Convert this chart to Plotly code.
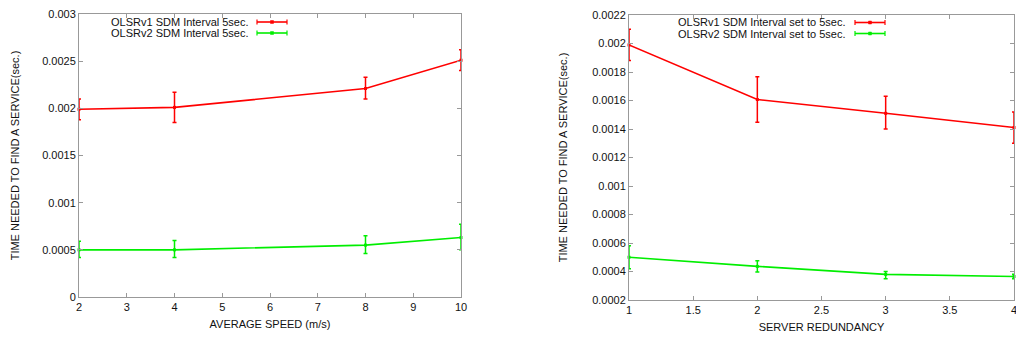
import plotly.graph_objects as go

# Left chart: average speed
speed = [2, 4, 8, 10]
v1_speed = [0.00199, 0.00201, 0.00221, 0.00251]
v1_speed_up = [0.00011, 0.00016, 0.00012, 0.00011]
v1_speed_dn = [0.00011, 0.00016, 0.00011, 0.00011]
v2_speed = [0.00050, 0.00050, 0.00055, 0.00063]
v2_speed_up = [0.00009, 0.00010, 0.00010, 0.00014]
v2_speed_dn = [0.00008, 0.00008, 0.00009, 0.00013]

# Right chart: server redundancy
redund = [1, 2, 3, 4]
v1_red = [0.00199, 0.001607, 0.00151, 0.00141]
v1_red_up = [0.00011, 0.00016, 0.00012, 0.00011]
v1_red_dn = [0.00011, 0.00016, 0.00011, 0.00011]
v2_red = [0.00050, 0.000436, 0.00038, 0.000365]
v2_red_up = [0.00008, 0.00004, 0.00002, 0.000015]
v2_red_dn = [0.00008, 0.00004, 0.00003, 0.000015]

left_yticks = [0, 0.0005, 0.001, 0.0015, 0.002, 0.0025, 0.003]
left_yticktext = ["0", "0.0005", "0.001", "0.0015", "0.002", "0.0025", "0.003"]
right_yticks = [0.0002, 0.0004, 0.0006, 0.0008, 0.001, 0.0012, 0.0014, 0.0016, 0.0018, 0.002, 0.0022]
right_yticktext = ["0.0002", "0.0004", "0.0006", "0.0008", "0.001", "0.0012", "0.0014",
                   "0.0016", "0.0018", "0.002", "0.0022"]
left_xticks = [2, 3, 4, 5, 6, 7, 8, 9, 10]
right_xticks = [1, 1.5, 2, 2.5, 3, 3.5, 4]
right_xticktext = ["1", "1.5", "2", "2.5", "3", "3.5", "4"]

names_left = ["OLSRv1 SDM Interval 5sec.", "OLSRv2 SDM Interval 5sec."]
names_right = ["OLSRv1 SDM Interval set to 5sec.", "OLSRv2 SDM Interval set to 5sec."]
xtitles = ["AVERAGE SPEED (m/s)", "SERVER REDUNDANCY"]
ytitle = "TIME NEEDED TO FIND A SERVICE(sec.)"

RED = "#ff0000"
GREEN = "#00ee00"
TEXT = "#111111"
FONT = "Liberation Sans, Arial, sans-serif"

# the page body has an 8px margin; figure sized to fill the remaining window
OFF = 8
W, H = 1024 - OFF, 341 - OFF


def px(x):
    return (x - OFF) / W


def py(y):
    return 1 - (y - OFF) / H


fig = go.Figure()


def add(x, y, up, dn, name, color, xa, ya):
    fig.add_trace(go.Scatter(
        x=x, y=y, name=name, mode="lines+markers", showlegend=False, cliponaxis=False,
        line=dict(color=color, width=1.6),
        marker=dict(color=color, size=3, symbol="square"),
        error_y=dict(type="data", symmetric=False, array=up, arrayminus=dn,
                     color=color, thickness=1.5, width=2),
        xaxis=xa, yaxis=ya))


add(speed, v1_speed, v1_speed_up, v1_speed_dn, names_left[0], RED, "x", "y")
add(speed, v2_speed, v2_speed_up, v2_speed_dn, names_left[1], GREEN, "x", "y")
add(redund, v1_red, v1_red_up, v1_red_dn, names_right[0], RED, "x2", "y2")
add(redund, v2_red, v2_red_up, v2_red_dn, names_right[1], GREEN, "x2", "y2")


# gnuplot-style key: right-aligned text followed by a sample line
def key(names, text_right, sample_left, sample_right, rows_y):
    for name, color, yp in zip(names, [RED, GREEN], rows_y):
        yy = py(yp)
        fig.add_annotation(xref="paper", yref="paper", x=px(text_right), y=yy,
                           xanchor="right", yanchor="middle", text=name, showarrow=False,
                           font=dict(size=11, color=TEXT))
        fig.add_shape(type="line", xref="paper", yref="paper",
                      x0=px(sample_left), x1=px(sample_right), y0=yy, y1=yy,
                      line=dict(color=color, width=1.6))
        for xe in (sample_left, sample_right):
            fig.add_shape(type="line", xref="paper", yref="paper",
                          x0=px(xe), x1=px(xe), y0=yy - 2.5 / H, y1=yy + 2.5 / H,
                          line=dict(color=color, width=1.2))
        xm = (sample_left + sample_right) / 2
        fig.add_shape(type="rect", xref="paper", yref="paper",
                      x0=px(xm - 1.5), x1=px(xm + 1.5), y0=yy - 1.5 / H, y1=yy + 1.5 / H,
                      line=dict(color=color, width=0.5), fillcolor=color)


key(names_left, 251, 257, 287, [22, 33])
key(names_right, 848, 855, 885, [22.5, 33.5])

axcommon = dict(showline=True, linecolor="#999999", linewidth=1, mirror="ticks",
                ticks="inside", ticklen=4, tickcolor="#999999", showgrid=False,
                zeroline=False, automargin=False, ticklabeloverflow="allow",
                tickfont=dict(size=11, color=TEXT),
                title_font=dict(size=11, color=TEXT))

fig.update_layout(
    width=W, height=H,
    margin=dict(l=0, r=0, t=0, b=0),
    plot_bgcolor="white", paper_bgcolor="white",
    font=dict(family=FONT, size=11, color=TEXT),
    showlegend=False,
    xaxis=dict(domain=[px(79), px(461)], range=[2, 10], tickvals=left_xticks,
               title=dict(text=xtitles[0], standoff=8), anchor="y", **axcommon),
    yaxis=dict(domain=[py(297), py(14)], range=[0, 0.0030001], tickvals=left_yticks,
               ticktext=left_yticktext, title=dict(text=ytitle, standoff=20), anchor="x", **axcommon),
    xaxis2=dict(domain=[px(629), px(1014)], range=[1, 4], tickvals=right_xticks,
                ticktext=right_xticktext, title=dict(text=xtitles[1], standoff=8), anchor="y2", **axcommon),
    yaxis2=dict(domain=[py(300), py(15)], range=[0.0002, 0.0022], tickvals=right_yticks,
                ticktext=right_yticktext, title=dict(text=ytitle, standoff=22), anchor="x2", **axcommon),
)

fig.write_html("out.html")
